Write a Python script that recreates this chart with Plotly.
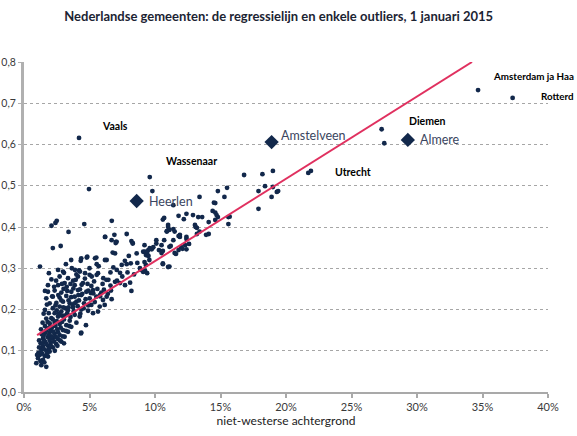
import plotly.graph_objects as go

# Municipalities: x = % niet-westerse achtergrond, y = value
cloud_low = [
    (0.94,0.070),(1.32,0.065),(1.70,0.061),(1.07,0.082),(1.45,0.078),(1.20,0.090),(1.58,0.087),(1.83,0.086),
    (1.32,0.102),(1.70,0.100),(1.96,0.098),(1.45,0.110),(1.83,0.112),(2.20,0.108),(1.27,0.118),(1.63,0.121),
    (2.04,0.120),(2.47,0.116),(1.45,0.130),(1.83,0.133),(2.20,0.130),(2.60,0.128),(2.85,0.122),(1.58,0.142),
    (1.96,0.144),(2.34,0.141),(2.72,0.138),(3.10,0.134),(1.78,0.154),(2.14,0.157),(2.54,0.152),(2.98,0.150),
    (3.36,0.146),(1.96,0.166),(2.34,0.168),(2.72,0.165),(3.23,0.162),(3.61,0.158),(2.09,0.179),(2.60,0.183),
    (3.05,0.176),(3.49,0.173),(4.00,0.168),(4.37,0.144),(2.34,0.191),(2.85,0.195),(3.30,0.191),(3.87,0.187),
    (4.25,0.183),(1.89,0.191),(2.20,0.203),(2.72,0.207),(3.15,0.203),(3.74,0.205),(4.37,0.200),(4.89,0.197),
    (5.27,0.191),(5.65,0.195),(1.96,0.215),(2.47,0.216),(2.98,0.219),(3.49,0.215),(4.00,0.219),(4.58,0.215),
    (5.14,0.211),(5.78,0.207),(6.16,0.211),(1.70,0.227),(2.20,0.231),(2.72,0.229),(3.23,0.233),(3.87,0.231),
    (4.37,0.235),(5.01,0.227),(5.52,0.231),(6.03,0.223),(1.83,0.243),(2.34,0.246),(2.85,0.241),(3.61,0.243),
    (4.12,0.247),(4.76,0.243),(5.27,0.247),(5.90,0.241),(2.60,0.259),(3.10,0.264),(3.87,0.259),(4.50,0.264),
    (5.14,0.257),(2.72,0.280),(3.36,0.276),(4.12,0.280),(5.01,0.284),(5.65,0.288),(6.28,0.272),(2.60,0.296),
    (2.98,0.292),(4.37,0.324),(4.83,0.328),(5.52,0.326),(1.22,0.304),(2.09,0.273),(1.83,0.259),(1.60,0.199),
    (1.10,0.095),(1.38,0.093),(1.52,0.104),(1.75,0.094),(1.90,0.105),(2.05,0.112),(1.15,0.108),(1.40,0.118),
    (1.55,0.125),(1.72,0.116),(1.95,0.126),(2.12,0.135),(2.30,0.122),(2.45,0.133),(1.35,0.140),(1.50,0.136),
    (1.68,0.148),(1.88,0.138),(2.05,0.150),(2.25,0.146),(2.40,0.160),(2.60,0.145),(2.80,0.156),(1.60,0.160),
    (1.80,0.170),(2.00,0.158),(2.20,0.176),(2.50,0.172),(2.65,0.190),(2.90,0.170),(3.10,0.185),(3.35,0.198),
    (3.55,0.182),(3.80,0.196),(4.10,0.208),(4.30,0.190),(4.55,0.203),(4.70,0.225),(3.00,0.205),(3.40,0.222),
    (3.70,0.212),(4.20,0.222),(4.90,0.210),(5.40,0.218),(1.00,0.090),(1.25,0.075),(1.55,0.072),(2.35,0.100),
    (2.55,0.112),(2.95,0.135),(3.20,0.148),(3.45,0.160),(2.75,0.125),(3.05,0.118),(1.70,0.178),(1.50,0.190),
    (2.40,0.210),(2.85,0.222),(3.60,0.230),(4.45,0.238),(5.80,0.232),(6.40,0.238),(2.30,0.255),(2.45,0.270),
    (3.55,0.262),(3.95,0.272),(4.65,0.275),(5.35,0.268),(6.00,0.262),(3.65,0.300),(4.20,0.295),(1.60,0.245),
    (1.75,0.212),(2.15,0.232),
    (1.15,0.125),(1.30,0.152),(1.42,0.168),(2.62,0.235),(3.02,0.250),(3.30,0.245),(3.75,0.270),(4.00,0.285),
    (4.40,0.260),(4.85,0.262),(5.10,0.240),(5.60,0.250),(6.10,0.248),(6.60,0.258),(7.10,0.270),(7.50,0.280),
    (7.90,0.290),(8.40,0.285),(3.85,0.215),(4.15,0.235),(3.40,0.205),(2.90,0.185),(2.50,0.198),(5.00,0.300),
    (5.70,0.305),(6.60,0.290),(7.70,0.318),(8.00,0.330),(3.20,0.310),(3.60,0.320),(2.90,0.262),(1.90,0.288),
]

cloud_mid = [
    (2.10,0.403),(2.40,0.410),(2.50,0.415),(3.40,0.388),(4.60,0.407),(6.70,0.415),(2.20,0.349),(2.80,0.354),
    (6.20,0.376),(6.90,0.381),(7.00,0.361),(8.20,0.366),(8.30,0.361),(9.20,0.356),(9.75,0.346),(10.30,0.344),
    (6.77,0.338),(4.79,0.326),(5.42,0.324),(6.31,0.320),(4.33,0.318),(5.55,0.310),(8.60,0.336),(9.10,0.340),
    (9.40,0.332),(9.57,0.320),(7.46,0.308),(7.84,0.310),(8.15,0.312),(8.65,0.313),(6.82,0.302),(7.08,0.296),
    (7.33,0.289),(8.85,0.300),(9.24,0.294),(3.05,0.289),(3.89,0.296),(4.27,0.292),(4.66,0.288),(5.17,0.280),
    (5.55,0.284),(6.05,0.276),(6.44,0.272),(6.95,0.267),(7.33,0.264),(7.71,0.259),(8.10,0.265),(8.20,0.245),
    (3.26,0.255),(3.77,0.251),(4.27,0.249),(4.91,0.246),(5.29,0.239),(5.80,0.235),(6.31,0.231),(6.69,0.225),
    (4.35,0.142),(4.73,0.162),(6.64,0.246),(6.18,0.320),(6.95,0.336),(7.07,0.364),(7.84,0.383),(10.10,0.368),
    (10.50,0.356),(11.10,0.352),(11.80,0.344),(12.30,0.356),(12.40,0.376),(11.90,0.376),(10.60,0.312),(11.10,0.304),
    (4.96,0.492),(9.60,0.521),(9.80,0.487),(10.60,0.418),(11.00,0.405),(10.90,0.389),(11.10,0.393),(11.50,0.389),
    (11.90,0.381),(10.10,0.360),(9.87,0.351),(9.24,0.340),(9.49,0.344),(9.31,0.332),(8.30,0.360),(11.40,0.368),
    (12.00,0.351),(12.40,0.346),(6.69,0.368),(7.02,0.364),(6.18,0.376),(9.20,0.315),(9.30,0.308),(10.60,0.310),
    (11.00,0.303),(8.90,0.296),(9.10,0.291),(9.40,0.288),(9.60,0.349),(9.40,0.337),(9.50,0.330),(10.60,0.342),
    (10.50,0.337),(11.50,0.337),(11.60,0.335),(12.10,0.347),(11.20,0.354),(12.60,0.359),(10.70,0.368),(12.40,0.371),
    (11.80,0.378),
]

cloud_high = [
    (13.20,0.383),(13.90,0.381),(14.10,0.383),(13.10,0.400),(13.20,0.398),(11.40,0.395),(11.00,0.400),(10.90,0.390),
    (14.10,0.412),(15.60,0.424),(15.60,0.407),(10.70,0.422),(11.80,0.427),(12.40,0.432),(12.20,0.419),(12.90,0.429),
    (13.30,0.424),(13.60,0.424),(14.70,0.429),(14.80,0.424),(14.60,0.417),(14.40,0.439),(11.40,0.453),(14.60,0.458),
    (13.40,0.473),(15.30,0.473),(14.80,0.487),(15.50,0.495),(17.90,0.444),(17.90,0.487),(18.40,0.499),(19.00,0.497),
    (19.30,0.485),(19.40,0.487),(18.90,0.473),(16.80,0.526),(18.20,0.528),(19.00,0.536),(21.70,0.531),(21.90,0.536),
    (14.50,0.459),(14.60,0.435),(15.70,0.425),(13.05,0.405),(13.40,0.389),
    (4.20,0.616),(27.30,0.637),(27.50,0.603),(34.66,0.732),(37.30,0.713),
]

# Highlighted municipalities (diamonds)
hl_names = ["Heerlen", "Amstelveen", "Almere"]
hl_x = [8.6, 18.9, 29.3]
hl_y = [0.463, 0.606, 0.611]

# Regression line end points
reg_x = [1.0, 34.2]
reg_y = [0.138, 0.800]

# Bold text labels (name, x, y)
bold_labels = [("Vaals", 6.95, 0.645), ("Wassenaar", 12.75, 0.560), ("Utrecht", 25.1, 0.533),
               ("Diemen", 30.8, 0.657)]
edge_labels = [("Amsterdam ja Haa", 0.766), ("Rotterd", 0.718)]
hl_label_x = [9.4, 19.5, 30.1]
hl_label_y = [0.463, 0.623, 0.611]

x_ticks = [0, 5, 10, 15, 20, 25, 30, 35, 40]
x_ticktext = ["0%", "5%", "10%", "15%", "20%", "25%", "30%", "35%", "40%"]
y_ticks = [0.0, 0.1, 0.2, 0.3, 0.4, 0.5, 0.6, 0.7, 0.8]
y_ticktext = ["0,0", "0,1", "0,2", "0,3", "0,4", "0,5", "0,6", "0,7", "0,8"]

pts = cloud_low + cloud_mid + cloud_high
gx = [p[0] for p in pts]
gy = [p[1] for p in pts]

navy = "#12284b"

fig = go.Figure()
fig.add_trace(go.Scatter(x=gx, y=gy, mode="markers",
                         marker=dict(size=4.8, color=navy), showlegend=False, cliponaxis=False))
fig.add_trace(go.Scatter(x=reg_x, y=reg_y, mode="lines",
                         line=dict(color="#e0305f", width=2), showlegend=False))
fig.add_trace(go.Scatter(x=hl_x, y=hl_y, mode="markers",
                         marker=dict(size=11, symbol="diamond", color=navy), showlegend=False))

for name, lx, ly in bold_labels:
    fig.add_annotation(x=lx, y=ly, text="<b>" + name + "</b>", showarrow=False,
                       xanchor="center", yanchor="middle",
                       font=dict(family="Lato", size=10.5, color="#000000"))
for name, ly in edge_labels:
    fig.add_annotation(x=1.0, xref="paper", y=ly, text="<b>" + name + "</b>", showarrow=False,
                       xanchor="right", yanchor="middle", xshift=28,
                       font=dict(family="Lato", size=9.8, color="#000000"))
for name, lx, ly in zip(hl_names, hl_label_x, hl_label_y):
    fig.add_annotation(x=lx, y=ly, text=name, showarrow=False,
                       xanchor="left", yanchor="middle",
                       font=dict(family="Lato", size=12.5, color="#3a4560"))

fig.update_layout(
    width=577, height=436,
    margin=dict(l=24, r=29, t=62, b=44),
    paper_bgcolor="white", plot_bgcolor="white",
    title=dict(text="<b>Nederlandse gemeenten: de regressielijn en enkele outliers, 1 januari 2015</b>",
               x=0.483, xanchor="center", y=0.963, yanchor="middle",
               font=dict(family="Lato", size=13, color="#1c2433")),
    font=dict(family="Lato", color="#3a3a3a"),
)
fig.update_xaxes(range=[0, 40], tickvals=x_ticks, ticktext=x_ticktext,
                 showgrid=False, zeroline=False, automargin=False,
                 showline=True, linecolor="#a9a9a9", linewidth=2,
                 ticks="outside", ticklen=4, tickcolor="#a9a9a9", tickwidth=1.5,
                 tickfont=dict(family="Lato", size=11, color="#3a3a3a"),
                 title=dict(text="niet-westerse achtergrond", standoff=4,
                            font=dict(family="Lato", size=12, color="#222222")))
fig.update_yaxes(range=[0, 0.8], tickvals=y_ticks, ticktext=y_ticktext,
                 showgrid=True, gridcolor="#a6a6a6", gridwidth=1.3, griddash="dot",
                 zeroline=False, automargin=False,
                 showline=True, linecolor="#b0b0b0", linewidth=3,
                 ticks="outside", ticklen=3, tickcolor="#b0b0b0", ticklabelstandoff=0,
                 tickfont=dict(family="Lato", size=10.5, color="#3a3a3a"))

fig.write_html("out.html", config={"displayModeBar": False},
               post_script="document.body.style.margin='0';")
